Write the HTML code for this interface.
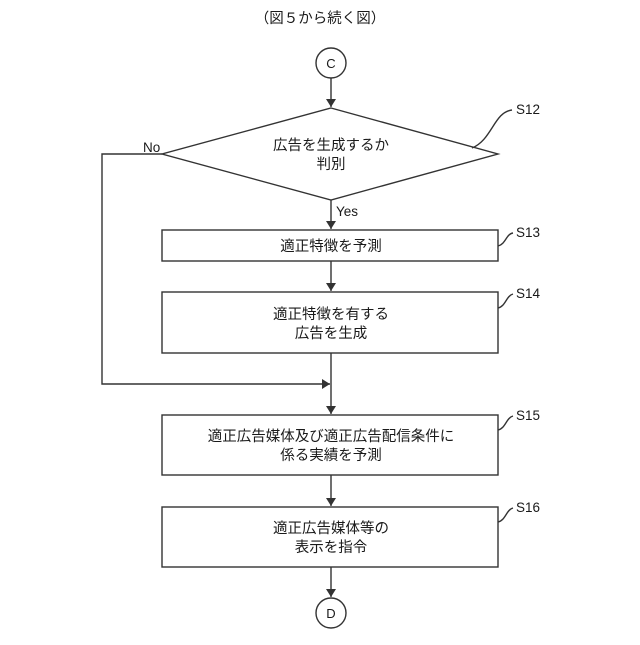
<!DOCTYPE html>
<html><head><meta charset="utf-8"><style>
body{margin:0;background:#fff}
svg text{font-family:"Liberation Sans","Noto Sans CJK JP",sans-serif;fill:#1a1a1a}
</style></head><body>
<svg width="640" height="640" viewBox="0 0 640 640" xmlns="http://www.w3.org/2000/svg">
<defs><marker id="a" markerWidth="8" markerHeight="10" refX="8" refY="5" orient="auto" markerUnits="userSpaceOnUse"><path d="M0,0 L8,5 L0,10 z" fill="#333"/></marker></defs>
<g stroke="#333" stroke-width="1.4" fill="none">
<circle cx="331" cy="63" r="15"/>
<line x1="331" y1="78" x2="331" y2="107" marker-end="url(#a)"/>
<polygon points="331,108 498,154 331,200 162,154"/>
<line x1="331" y1="200" x2="331" y2="229" marker-end="url(#a)"/>
<rect x="162" y="230" width="336" height="31"/>
<line x1="331" y1="261" x2="331" y2="291" marker-end="url(#a)"/>
<rect x="162" y="292" width="336" height="61"/>
<line x1="331" y1="353" x2="331" y2="414" marker-end="url(#a)"/>
<polyline points="162,154 102,154 102,384 330,384" marker-end="url(#a)"/>
<rect x="162" y="415" width="336" height="60"/>
<line x1="331" y1="475" x2="331" y2="506" marker-end="url(#a)"/>
<rect x="162" y="507" width="336" height="60"/>
<line x1="331" y1="567" x2="331" y2="597" marker-end="url(#a)"/>
<circle cx="331" cy="613" r="15"/>
<path d="M472,148 C492,140 494,112 512,110"/>
<path d="M498,246 C506,244 506,234 513,233"/>
<path d="M498,308 C506,306 506,296 513,294"/>
<path d="M498,430 C506,428 506,418 513,416"/>
<path d="M498,522 C506,520 506,510 513,508"/>
</g>
<g font-size="14.5" text-anchor="middle">
<text x="320" y="23">（図５から続く図）</text>
<text x="331" y="68" font-size="13">C</text>
<text x="331" y="618" font-size="13">D</text>
<text x="331" y="150">広告を生成するか</text>
<text x="331" y="169">判別</text>
<text x="331" y="251">適正特徴を予測</text>
<text x="331" y="319">適正特徴を有する</text>
<text x="331" y="338">広告を生成</text>
<text x="331" y="441">適正広告媒体及び適正広告配信条件に</text>
<text x="331" y="460">係る実績を予測</text>
<text x="331" y="533">適正広告媒体等の</text>
<text x="331" y="552">表示を指令</text>
</g>
<g font-size="13.5">
<text x="143" y="152">No</text>
<text x="336" y="216">Yes</text>
<text x="516" y="114">S12</text>
<text x="516" y="237">S13</text>
<text x="516" y="298">S14</text>
<text x="516" y="420">S15</text>
<text x="516" y="512">S16</text>
</g>
</svg>
</body></html>
